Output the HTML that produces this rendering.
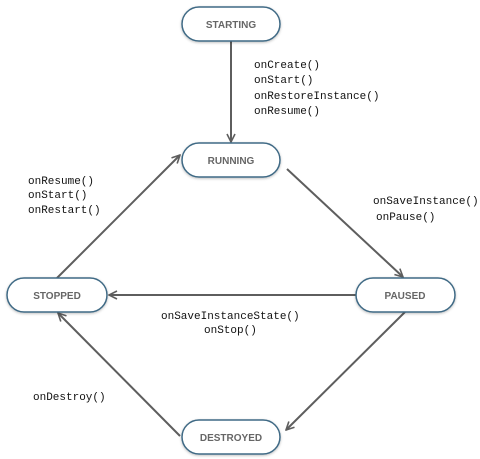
<!DOCTYPE html>
<html><head><style>
body{margin:0;background:#fff;}
svg{display:block;}
.n{fill:#fff;stroke:#3f6a85;stroke-width:1.5;}
.l{font-family:"Liberation Sans",sans-serif;font-weight:bold;font-size:10px;fill:#666;text-anchor:middle;}
.t{font-family:"Liberation Mono",monospace;font-size:11px;fill:#111;}
.a{stroke:#5e5e5e;stroke-width:2;fill:none;marker-end:url(#h);}
</style></head><body>
<svg width="480" height="459" viewBox="0 0 480 459">
<defs>
<marker id="h" viewBox="0 0 10 10" refX="9" refY="5" markerWidth="10" markerHeight="10" orient="auto" markerUnits="userSpaceOnUse">
<path d="M1,1 L9,5 L1,9" fill="none" stroke="#5e5e5e" stroke-width="1.6"/>
</marker>
<filter id="s" x="-10%" y="-20%" width="120%" height="140%"><feDropShadow dx="0" dy="1" stdDeviation="1.2" flood-color="#000" flood-opacity="0.25"/></filter>
</defs>
<line class="a" x1="231" y1="41" x2="231" y2="142"/>
<line class="a" x1="287" y1="169" x2="403" y2="277"/>
<line class="a" x1="356" y1="295" x2="109" y2="295"/>
<line class="a" x1="57" y1="278" x2="180" y2="155"/>
<line class="a" x1="405" y1="312" x2="286" y2="430"/>
<line class="a" x1="180" y1="436" x2="58" y2="313"/>
<g filter="url(#s)">
<rect class="n" x="182" y="7" width="98" height="34" rx="17"/>
<rect class="n" x="182" y="143" width="98" height="34" rx="17"/>
<rect class="n" x="7" y="278" width="100" height="34" rx="17"/>
<rect class="n" x="356" y="278" width="99" height="34" rx="17"/>
<rect class="n" x="182" y="420" width="98" height="34" rx="17"/>
</g>
<text class="l" x="231" y="28">STARTING</text>
<text class="l" x="231" y="164">RUNNING</text>
<text class="l" x="57" y="299">STOPPED</text>
<text class="l" x="405" y="299">PAUSED</text>
<text class="l" x="231" y="441">DESTROYED</text>
<text class="t" x="254" y="68">onCreate()</text>
<text class="t" x="254" y="83">onStart()</text>
<text class="t" x="254" y="99">onRestoreInstance()</text>
<text class="t" x="254" y="114">onResume()</text>
<text class="t" x="28" y="184">onResume()</text>
<text class="t" x="28" y="198">onStart()</text>
<text class="t" x="28" y="213">onRestart()</text>
<text class="t" x="373" y="204">onSaveInstance()</text>
<text class="t" x="376" y="220">onPause()</text>
<text class="t" x="161" y="319">onSaveInstanceState()</text>
<text class="t" x="204" y="333">onStop()</text>
<text class="t" x="33" y="400">onDestroy()</text>
</svg>
</body></html>
